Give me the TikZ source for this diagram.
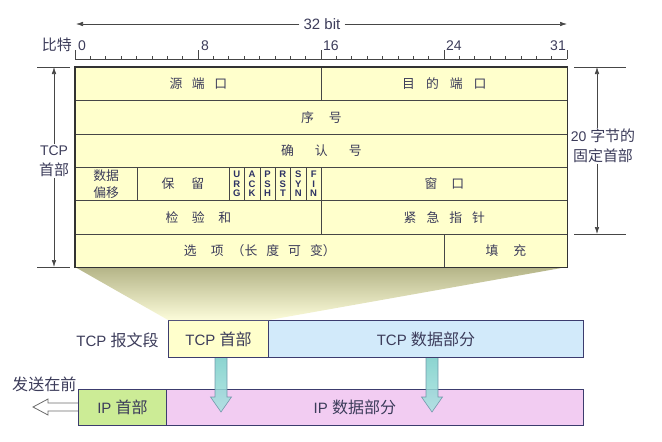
\documentclass[tikz,border=0pt]{standalone}
\usepackage{fontspec}
\setmainfont{Liberation Sans}
\newfontfamily\cjk[Scale=1.07]{Noto Sans CJK SC}
\usetikzlibrary{arrows.meta, positioning, calc}
\definecolor{ink1}{RGB}{60, 60, 90}
\definecolor{flagink}{RGB}{45, 50, 100}
\definecolor{rule1}{RGB}{70, 70, 70}
\definecolor{yellow1}{RGB}{255, 255, 204}
\definecolor{khaki1}{RGB}{180, 180, 135}
\definecolor{khaki2}{RGB}{252, 252, 218}
\definecolor{blue1}{RGB}{210, 234, 250}
\definecolor{green1}{RGB}{204, 236, 150}
\definecolor{pink1}{RGB}{242, 204, 242}
\definecolor{navy1}{RGB}{60, 60, 110}
\definecolor{teal1}{RGB}{120, 205, 200}
\definecolor{teal2}{RGB}{170, 228, 225}
\definecolor{tealline}{RGB}{100, 140, 160}
\newcommand{\gap}[1]{\hspace{#1pt}}

\tikzset{
  field/.style={draw=rule1, line width=0.7pt, fill=yellow1, anchor=north west, inner sep=0pt,
    minimum height=33.33pt, text=ink1, font=\fontsize{12}{17}\selectfont\cjk, align=center},
  flagbox/.style={field, minimum width=15.375pt, text=flagink,
    font=\fontsize{9.5}{9.5}\selectfont\bfseries},
  side/.style={text=ink1, font=\fontsize{14}{20}\selectfont, align=center, inner sep=1pt},
  seg/.style={draw=navy1, line width=1pt, anchor=north west, inner sep=0pt,
    minimum height=37pt, text=ink1, font=\fontsize{15}{18}\selectfont},
  dim/.style={draw=rule1, line width=0.6pt},
  dimarrow/.style={dim, -{Latex[length=7pt, width=4.5pt]}},
}

\begin{document}
\begin{tikzpicture}[x=1pt, y=-1pt]
  \useasboundingbox (0,0) rectangle (662,442);

  % lower part: TCP segment and IP datagram
  \node[seg, fill=yellow1, minimum width=100pt] (tcphead) at (168,320) {TCP {\cjk 首部}};
  \node[seg, fill=blue1, minimum width=315pt] (tcpdata) at (268,320) {TCP {\cjk 数据部分}};
  \node[side, anchor=east, font=\fontsize{15}{18}\selectfont] (tcpseg) at (160,340) {TCP {\cjk 报文段}};

  \draw[rule1!80, fill=white, line width=0.8pt] (80,403) -- (48,403) -- (48,399) -- (33,407)
    -- (48,415) -- (48,411) -- (80,411);
  \node[seg, fill=green1, minimum width=88pt, minimum height=36pt] (iphead) at (78,389) {IP {\cjk 首部}};
  \node[seg, fill=pink1, minimum width=417pt, minimum height=36pt,
    label={[text=ink1, font=\fontsize{15}{18}\selectfont, xshift=-20pt]center:IP {\cjk 数据部分}}]
    (ipdata) at (166,389) {};
  \node[side, anchor=base west, font=\fontsize{15}{18}\selectfont, inner sep=0pt] (sendfirst) at (12,390) {\cjk 发送在前};

  \foreach \x in {221,432}
    \draw[tealline, line width=0.6pt, top color=teal1, bottom color=teal2, opacity=0.85]
      (\x-6,358) -- (\x-6,397) -- (\x-10.5,397) -- (\x,412) -- (\x+10.5,397) -- (\x+6,397) -- (\x+6,358);

  % funnel from the header to the segment
  \shade[top color=khaki1, bottom color=khaki2] (75,267) -- (567,267)
    -- (tcphead.north east) -- (tcphead.north west) -- cycle;

  % header fields
  \node[field, minimum width=246pt] (srcport) at (75,67) {源\gap{9.5}端\gap{9.5}口};
  \node[field, minimum width=246pt] (dstport) at (321,67) {目\gap{11}的\gap{11}端\gap{11}口};
  \node[field, minimum width=492pt] (seqno) at (75,100.33) {序\gap{15}号};
  \node[field, minimum width=492pt] (ackno) at (75,133.67) {确\gap{21}认\gap{21}号};
  \node[field, minimum width=61.5pt] (offset) at (75,167) {数据\\偏移};
  \node[field, minimum width=92.25pt] (resv) at (136.5,167) {保\gap{17}留};
  \foreach \f [count=\i from 0] in {U\\R\\G, A\\C\\K, P\\S\\H, R\\S\\T, S\\Y\\N, F\\I\\N}
    \node[flagbox] (flag\i) at (228.75+\i*15.375,167) {\f};
  \node[field, minimum width=246pt] (window) at (321,167) {窗\gap{14}口};
  \node[field, minimum width=246pt] (checksum) at (75,200.33) {检\gap{13.5}验\gap{13.5}和};
  \node[field, minimum width=246pt] (urgent) at (321,200.33) {紧\gap{10}急\gap{10}指\gap{10}针};
  \node[field, minimum width=369pt] (options) at (75,233.67)
    {选\gap{14}项\gap{8}（长\gap{9}度\gap{9}可\gap{9}变）};
  \node[field, minimum width=123pt] (padding) at (444,233.67) {填\gap{15}充};
  \draw[black!80, line width=1.3pt] (srcport.north west) rectangle (padding.south east);

  % bit ruler
  \draw[dim] (75,59) -- (567,59);
  \foreach \i in {0,...,32}
    \draw[dim] (75+\i*15.375,59) -- ++(0,-3.5);
  \foreach \i in {0,8,16,24,32}
    \draw[dim] (75+\i*15.375,59) -- ++(0,-9);
  \node[side, anchor=base west] (bit0) at (77,50) {0};
  \node[side, anchor=base west] (bit8) at (200,50) {8};
  \node[side, anchor=base west] (bit16) at (322,50) {16};
  \node[side, anchor=base west] (bit24) at (445,50) {24};
  \node[side, anchor=base east] (bit31) at (567,50) {31};
  \node[side, anchor=base east] (bitname) at (73,50) {\cjk 比特};

  \node[side, font=\fontsize{15}{18}\selectfont, inner sep=4pt] (width) at (322,24) {32 bit};
  \coordinate (wleft) at (76,24);
  \coordinate (wright) at (567,24);
  \draw[dimarrow] (width.west) -- (wleft);
  \draw[dimarrow] (width.east) -- (wright);

  % header length marks
  \draw[dim] (37,67) -- (70,67);
  \draw[dim] (37,267) -- (70,267);
  \coordinate (hdrtop) at (54,67);
  \coordinate (hdrbot) at (54,267);
  \node[side] (tcphdr) at (54,161) {TCP\\{\cjk 首部}};
  \draw[dimarrow] (tcphdr.north) -- (hdrtop);
  \draw[dimarrow] (tcphdr.south) -- (hdrbot);

  \draw[dim] (574,67) -- (626,67);
  \draw[dim] (574,234) -- (626,234);
  \coordinate (fixtop) at (597,67);
  \coordinate (fixbot) at (597,234);
  \node[side] (fixhdr) at (603,146) {20 {\cjk 字节的}\\{\cjk 固定首部}};
  \draw[dimarrow] (fixhdr.north -| fixtop) -- (fixtop);
  \draw[dimarrow] (fixhdr.south -| fixbot) -- (fixbot);
\end{tikzpicture}
\end{document}
